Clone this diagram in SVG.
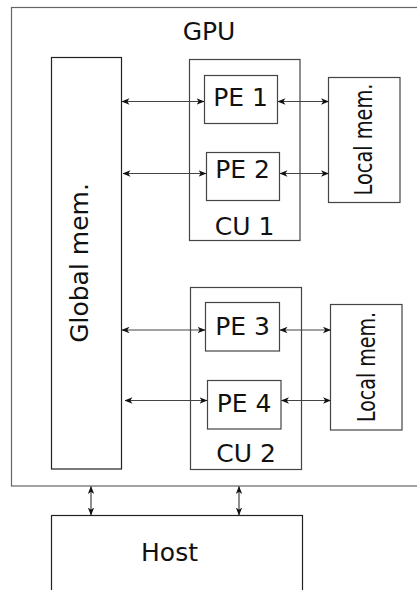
<svg xmlns="http://www.w3.org/2000/svg" width="417" height="590" viewBox="0 0 417 590">
<style>
.box{fill:#fff;stroke:#444;stroke-width:1.2}
.gpu{fill:#fff;stroke:#666;stroke-width:1.2}
.lbl{font-family:"DejaVu Sans",sans-serif;font-size:25px;fill:#111;text-anchor:middle}
.cn{stroke:#444;stroke-width:1.2;fill:none;marker-start:url(#ah);marker-end:url(#ah)}
</style>
<defs>
<marker id="ah" viewBox="0 0 8 8" refX="7.5" refY="4" markerWidth="8" markerHeight="8" markerUnits="userSpaceOnUse" orient="auto-start-reverse">
<path d="M0,0.8 L8,4 L0,7.2 L2.2,4 z" fill="#111"/>
</marker>
</defs>
<g id="gpu">
<rect class="gpu" x="11.5" y="7.5" width="410" height="478.5"/>
<text class="lbl" x="209" y="40">GPU</text>
</g>
<g id="global-mem">
<rect class="box" x="51.5" y="57.5" width="70" height="411.5" style="stroke:#222"/>
<text class="lbl" transform="translate(88,263) rotate(-90)">Global mem.</text>
</g>
<g id="cu1">
<rect class="box" x="189.5" y="59.5" width="110.5" height="181"/>
<text class="lbl" x="244.5" y="235">CU 1</text>
</g>
<g id="pe1">
<rect class="box" x="204.5" y="75.5" width="73" height="48"/>
<text class="lbl" x="240.5" y="106">PE 1</text>
</g>
<g id="pe2">
<rect class="box" x="206.5" y="152.5" width="73" height="48"/>
<text class="lbl" x="242.5" y="177.5">PE 2</text>
</g>
<g id="local-mem1">
<rect class="box" x="328.5" y="77.5" width="71.5" height="125"/>
<text class="lbl" transform="translate(372,139.5) rotate(-90)" textLength="112" lengthAdjust="spacingAndGlyphs">Local mem.</text>
</g>
<g id="cu2">
<rect class="box" x="190.5" y="287.5" width="111" height="182"/>
<text class="lbl" x="246" y="461.5">CU 2</text>
</g>
<g id="pe3">
<rect class="box" x="205.5" y="302.5" width="74" height="48.5"/>
<text class="lbl" x="242.5" y="334.5">PE 3</text>
</g>
<g id="pe4">
<rect class="box" x="207.5" y="380.5" width="73.5" height="48.5"/>
<text class="lbl" x="244" y="411.5">PE 4</text>
</g>
<g id="local-mem2">
<rect class="box" x="330.5" y="304.5" width="71.5" height="125.5"/>
<text class="lbl" transform="translate(375,367) rotate(-90)" textLength="110" lengthAdjust="spacingAndGlyphs">Local mem.</text>
</g>
<g id="host">
<rect class="box" x="51.5" y="515.5" width="251" height="90" style="stroke:#222"/>
<text class="lbl" x="169.5" y="560.5">Host</text>
</g>
<g id="connectors">
<line class="cn" x1="122" y1="101.5" x2="204" y2="101.5"/>
<line class="cn" x1="123" y1="173.5" x2="206" y2="173.5"/>
<line class="cn" x1="122" y1="330" x2="205" y2="330"/>
<line class="cn" x1="125" y1="400.5" x2="207" y2="400.5"/>
<line class="cn" x1="278" y1="101.5" x2="328.5" y2="101.5"/>
<line class="cn" x1="280" y1="173.5" x2="328.5" y2="173.5"/>
<line class="cn" x1="280" y1="330" x2="330.5" y2="330"/>
<line class="cn" x1="281.5" y1="400.5" x2="330.5" y2="400.5"/>
<line class="cn" x1="91" y1="486.5" x2="91" y2="515"/>
<line class="cn" x1="239" y1="486.5" x2="239" y2="515"/>
</g>
</svg>
